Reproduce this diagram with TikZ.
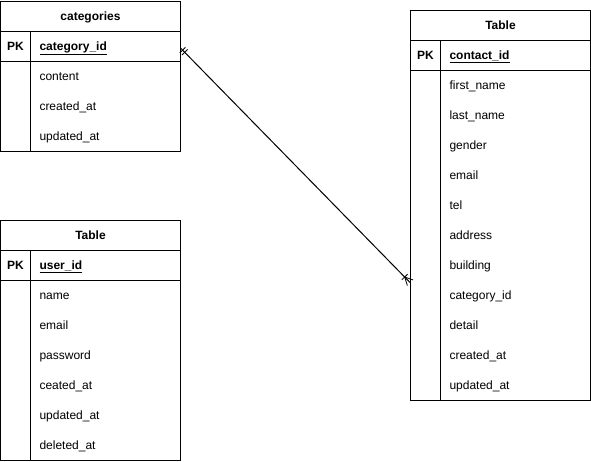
\documentclass[tikz,border=0pt]{standalone}
\usepackage{fontspec}
\setmainfont{Liberation Sans}
\usetikzlibrary{positioning,decorations.markings}

\tikzset{
  every node/.style={font=\fontsize{12pt}{14pt}\selectfont},
  tablehead/.style={draw, minimum width=180pt, minimum height=30pt, inner sep=0pt, outer sep=0pt,
    text height=9pt, text depth=0.5pt, font=\fontsize{12pt}{14pt}\selectfont\bfseries},
  keycell/.style={draw, minimum width=30pt, minimum height=30pt, inner sep=0pt, outer sep=0pt,
    text height=9pt, text depth=0.5pt, font=\fontsize{12pt}{14pt}\selectfont\bfseries},
  pkcell/.style={draw, minimum height=30pt, inner xsep=9pt, inner ysep=0pt, outer sep=0pt,
    text height=9pt, text depth=0.5pt, text width=132pt, align=left,
    font=\fontsize{12pt}{14pt}\selectfont\bfseries},
  fieldcell/.style={minimum height=30pt, inner xsep=9pt, inner ysep=0pt, outer sep=0pt,
    text height=9pt, text depth=0.5pt, text width=132pt, align=left},
  onetomany/.style={decoration={markings,
      mark=at position 0 with {\draw[line width=0.8pt] (3pt,-4pt) -- (3pt,4pt);
                               \draw[line width=0.8pt] (6pt,-4pt) -- (6pt,4pt);},
      mark=at position 0.999 with {\draw[line width=0.8pt] (-8pt,0pt) -- (0pt,4pt);
                                   \draw[line width=0.8pt] (-8pt,0pt) -- (0pt,-4pt);
                                   \draw[line width=0.8pt] (-8pt,-4pt) -- (-8pt,4pt);}},
    postaction=decorate}
}

\begin{document}
\begin{tikzpicture}[line width=1pt]
\useasboundingbox (0,0) rectangle (591pt,-461pt);

\node[tablehead] (cathead) at (90.5pt,-16pt) {categories};
\node[keycell, below right=0pt and 0pt of cathead.south west] (catkey) {PK};
\node[pkcell, right=0pt of catkey] (catpk) {\underline{category\_id}};
\node[fieldcell, below=0pt of catpk] (catcontent) {content};
\node[fieldcell, below=0pt of catcontent] (catcreated) {created\_at};
\node[fieldcell, below=0pt of catcreated] (catupdated) {updated\_at};
\draw (catkey.south west) rectangle (catupdated.south east);
\draw (catkey.south east) -- (catkey.south east |- catupdated.south);

\node[tablehead] (userhead) at (90.5pt,-235pt) {Table};
\node[keycell, below right=0pt and 0pt of userhead.south west] (userkey) {PK};
\node[pkcell, right=0pt of userkey] (userpk) {\underline{user\_id}};
\node[fieldcell, below=0pt of userpk] (username) {name};
\node[fieldcell, below=0pt of username] (useremail) {email};
\node[fieldcell, below=0pt of useremail] (userpass) {password};
\node[fieldcell, below=0pt of userpass] (usercreated) {ceated\_at};
\node[fieldcell, below=0pt of usercreated] (userupdated) {updated\_at};
\node[fieldcell, below=0pt of userupdated] (userdeleted) {deleted\_at};
\draw (userkey.south west) rectangle (userdeleted.south east);
\draw (userkey.south east) -- (userkey.south east |- userdeleted.south);

\node[tablehead] (cthead) at (500.5pt,-25pt) {Table};
\node[keycell, below right=0pt and 0pt of cthead.south west] (ctkey) {PK};
\node[pkcell, right=0pt of ctkey] (ctpk) {\underline{contact\_id}};
\node[fieldcell, below=0pt of ctpk] (ctfirst) {first\_name};
\node[fieldcell, below=0pt of ctfirst] (ctlast) {last\_name};
\node[fieldcell, below=0pt of ctlast] (ctgender) {gender};
\node[fieldcell, below=0pt of ctgender] (ctemail) {email};
\node[fieldcell, below=0pt of ctemail] (cttel) {tel};
\node[fieldcell, below=0pt of cttel] (ctaddress) {address};
\node[fieldcell, below=0pt of ctaddress] (ctbuild) {building};
\node[fieldcell, below=0pt of ctbuild] (ctcat) {category\_id};
\node[fieldcell, below=0pt of ctcat] (ctdetail) {detail};
\node[fieldcell, below=0pt of ctdetail] (ctcreated) {created\_at};
\node[fieldcell, below=0pt of ctcreated] (ctupdated) {updated\_at};
\draw (ctkey.south west) rectangle (ctupdated.south east);
\draw (ctkey.south east) -- (ctkey.south east |- ctupdated.south);

\coordinate[yshift=-2pt] (catout) at (catpk.east);
\coordinate[yshift=-3pt] (ctin) at (ctkey.west |- ctbuild.south);
\draw[onetomany] (catout) -- (ctin);
\end{tikzpicture}
\end{document}
